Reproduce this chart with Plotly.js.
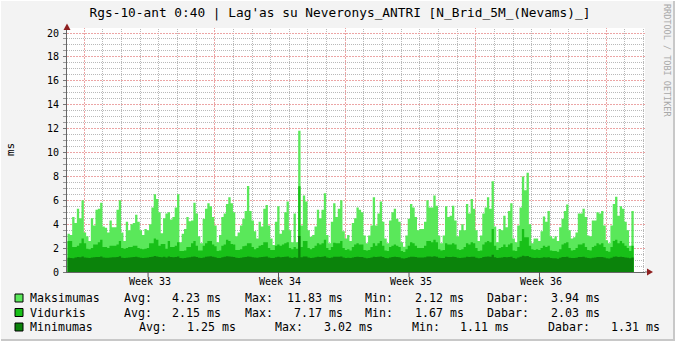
<!DOCTYPE html>
<html>
<head>
<meta charset="utf-8">
<script src="https://cdn.plot.ly/plotly-3.0.1.min.js"></script>
<style>html,body{margin:0;padding:0;background:#f3f3f3;}#chart{width:675px;height:341px;}</style>
</head>
<body>
<div id="chart"></div>
<script>
// ---- data (days relative to start of Week 33, 3-hour step) ----
const startDay = -0.9;
const stepDay = 0.125;
const weekLabels = ["Week 33", "Week 34", "Week 35", "Week 36"];
const weekCenters = [3.5, 10.5, 17.5, 24.5];
const seriesNames = ["Maksimumas", "Vidurkis", "Minimumas"];
const statAvg = [4.23, 2.15, 1.25];
const statMax = [11.83, 7.17, 3.02];
const statMin = [2.12, 1.67, 1.11];
const statCur = [3.94, 2.03, 1.31];

const maks = [
3.2,3.1,4.6,4.1,5.3,4.5,6.0,3.3,3.0,2.6,
4.5,3.9,5.2,5.3,5.8,3.8,3.7,3.3,4.3,3.75,
3.75,5.2,6.0,3.3,2.6,4.2,3.5,4.0,4.1,4.8,
4.2,3.5,3.1,3.6,3.5,4.0,5.4,6.5,6.1,5.0,
3.25,4.5,4.9,5.0,4.4,4.6,5.4,6.5,2.5,3.2,
3.6,4.6,4.25,4.3,5.8,4.9,3.0,2.4,4.45,5.3,
5.75,5.5,4.6,3.9,2.5,3.1,4.6,4.9,5.7,6.25,
5.75,5.0,3.0,3.3,3.9,4.45,5.1,7.2,5.1,4.3,
3.4,2.8,4.2,3.8,5.3,5.6,3.9,2.8,2.25,4.2,
5.5,3.2,3.5,5.0,5.9,3.5,2.5,4.9,2.5,11.83,
3.9,6.4,5.9,3.5,2.95,3.1,3.8,5.2,4.5,5.2,
6.6,3.1,2.4,4.2,5.75,4.6,5.3,6.0,3.4,2.8,
3.1,2.6,4.1,4.5,5.4,5.2,5.0,3.05,2.4,3.05,
3.9,6.25,3.9,4.9,5.9,4.2,2.8,2.4,4.3,5.0,
5.3,4.45,4.2,2.5,2.12,3.05,4.45,5.7,5.4,4.6,
3.5,3.6,3.6,4.2,6.0,5.4,5.4,6.4,5.55,3.05,
2.4,3.05,5.5,4.6,4.7,5.55,4.3,3.0,3.5,4.0,
3.5,5.7,4.9,6.1,5.3,3.5,2.6,3.05,4.9,5.4,
6.25,5.3,7.6,3.8,2.5,3.6,3.5,4.7,3.75,5.1,
5.75,2.8,2.5,3.9,5.4,8.0,6.85,8.3,4.0,2.4,
2.8,2.8,2.6,3.4,4.65,4.2,5.1,3.0,2.8,3.0,
2.6,3.75,4.45,5.1,5.65,3.5,2.8,2.9,3.3,4.9,
4.9,5.3,4.6,3.05,3.0,4.3,4.3,5.0,4.9,5.1,
3.9,2.65,2.4,3.9,5.7,6.3,4.7,5.5,5.3,4.2,
3.5,2.2,5.1,3.5
];
const vidurkis = [
2.6,2.6,2.1,2.1,2.2,2.4,2.8,2.4,1.95,1.9,
2.0,2.3,2.3,2.5,2.7,2.1,2.1,2.0,2.2,2.2,
2.2,2.3,2.6,2.0,1.95,2.0,2.1,2.1,2.2,2.2,
2.0,1.95,1.9,1.95,2.0,2.4,2.4,2.8,2.7,2.2,
2.35,2.35,1.95,2.6,2.1,2.1,2.2,2.5,1.75,1.75,
1.8,2.1,2.1,2.4,2.6,2.2,1.8,1.8,2.2,2.4,
2.6,2.6,2.3,2.15,1.75,1.8,2.2,2.3,2.7,2.6,
2.35,2.3,1.85,1.85,1.9,2.15,2.2,2.4,2.4,2.1,
1.9,2.0,2.2,2.25,2.5,2.5,2.0,1.85,1.85,2.2,
2.3,2.2,2.3,2.4,2.5,2.0,1.9,2.1,1.95,7.17,
2.1,2.6,2.6,2.0,1.9,2.0,2.2,2.4,2.3,2.4,
2.7,2.0,1.85,2.1,2.45,2.4,2.4,2.6,2.0,1.85,
1.9,1.8,2.1,2.3,2.4,2.3,2.3,1.85,1.8,1.85,
2.1,2.4,2.2,2.4,2.6,2.2,1.8,1.75,2.1,2.2,
2.3,2.2,2.1,1.75,1.67,1.9,2.2,2.5,2.4,2.2,
2.0,2.0,2.0,2.2,2.6,2.6,2.5,2.7,2.5,1.9,
1.8,1.85,2.4,2.3,2.3,2.4,2.3,1.9,1.85,1.9,
2.1,2.4,2.3,2.5,2.4,2.0,1.75,1.8,2.3,2.5,
2.6,2.5,3.6,2.2,1.85,2.0,2.1,2.3,2.1,2.3,
2.4,1.8,1.75,2.1,2.6,3.6,2.9,2.9,2.2,1.9,
1.85,1.9,1.85,2.0,2.2,2.1,2.2,1.8,1.75,1.75,
1.7,1.9,2.3,2.4,2.5,2.0,1.8,1.85,2.0,2.3,
2.3,2.4,2.1,1.85,1.8,2.1,2.2,2.4,2.3,2.4,
2.1,1.75,1.7,2.1,2.6,2.7,2.4,2.6,2.4,2.2,
2.0,1.75,2.2,2.0
];
const minimumas = [
1.2,1.18,1.15,1.22,1.25,1.24,1.3,1.22,1.2,1.18,
1.22,1.24,1.26,1.25,1.3,1.22,1.2,1.19,1.22,1.24,
1.24,1.26,1.32,1.2,1.17,1.2,1.22,1.24,1.25,1.27,
1.24,1.2,1.18,1.2,1.22,1.25,1.28,1.33,1.3,1.26,
1.24,1.27,1.22,1.3,1.25,1.24,1.26,1.3,1.18,1.16,
1.18,1.22,1.24,1.27,1.3,1.26,1.19,1.17,1.22,1.27,
1.3,1.31,1.27,1.24,1.17,1.18,1.24,1.27,1.32,1.3,
1.27,1.25,1.19,1.18,1.2,1.24,1.26,1.3,1.28,1.24,
1.22,1.2,1.24,1.25,1.28,1.3,1.22,1.18,1.17,1.23,
1.27,1.24,1.26,1.28,1.3,1.22,1.18,1.24,1.2,3.02,
1.24,1.3,1.3,1.22,1.18,1.2,1.24,1.27,1.26,1.28,
1.31,1.22,1.17,1.22,1.27,1.27,1.28,1.3,1.22,1.18,
1.19,1.17,1.22,1.25,1.27,1.26,1.26,1.2,1.16,1.18,
1.22,1.27,1.25,1.27,1.3,1.25,1.18,1.15,1.22,1.25,
1.27,1.25,1.23,1.16,1.13,1.18,1.24,1.28,1.27,1.25,
1.22,1.22,1.22,1.24,1.3,1.3,1.28,1.31,1.28,1.2,
1.17,1.18,1.27,1.26,1.26,1.28,1.25,1.2,1.18,1.2,
1.22,1.27,1.26,1.28,1.27,1.2,1.15,1.17,1.25,1.28,
1.3,1.28,1.45,1.24,1.17,1.2,1.22,1.25,1.23,1.25,
1.27,1.17,1.12,1.22,1.28,1.36,1.32,1.33,1.25,1.2,
1.18,1.2,1.18,1.2,1.24,1.22,1.24,1.17,1.15,1.15,
1.11,1.2,1.25,1.26,1.28,1.2,1.17,1.18,1.2,1.25,
1.25,1.27,1.22,1.17,1.15,1.2,1.22,1.26,1.25,1.26,
1.22,1.15,1.13,1.2,1.28,1.3,1.26,1.28,1.26,1.22,
1.2,1.15,1.22,1.2
];

// ---- styling ----
const colors = ["#5ae85a", "#18c018", "#0b830b"];
const MONO = "DejaVu Sans Mono, monospace";
const W = 675, H = 341, L = 67, R = 645, T = 28, B = 272;
const px = X => (X - L) / (R - L);
const py = Y => (B - Y) / (B - T);
const GRID_MAJOR = "rgb(236,165,165)", GRID_MINOR = "rgb(185,185,185)";
const X0 = (L - 84.3) / 18.64, X1 = (R - 84.3) / 18.64;
const Y1 = 20 * (B - T) / (B - 33);
const dayToPx = d => L + (d - X0) / (X1 - X0) * (R - L);
const valToPx = v => B - v / Y1 * (B - T);

const times = maks.map((_, i) => startDay + i * stepDay);
const series = [maks, vidurkis, minimumas];
const traces = series.map((vals, k) => ({
  type: "scatter", mode: "lines", x: times, y: vals,
  line: {shape: "hv", width: 0, color: colors[k]},
  fill: "tozeroy", fillcolor: colors[k],
  name: seriesNames[k], hoverinfo: "skip"
}));

const shapes = [];
// grid (crisp 1px dotted lines, below the data): minor first, major on top
const majorGrid = [];
for (let d = Math.ceil(X0); d <= X1; d++) {
  const Xp = Math.round(dayToPx(d) - 0.5) + 0.5;
  const major = Math.abs(d % 7) === 0;
  const s = {type: "line", layer: "below", xref: "paper", yref: "paper",
    x0: px(Xp), x1: px(Xp), y0: 0, y1: 1,
    line: {color: major ? GRID_MAJOR : GRID_MINOR, width: 1, dash: major ? "2px,1px" : "1px,1px"}};
  (major ? majorGrid : shapes).push(s);
}
for (let j = 1; j * 0.5 <= 20; j++) {
  const v = j * 0.5;
  const Yp = Math.round(valToPx(v) - 0.5) + 0.5;
  const major = j % 4 === 0;
  const s = {type: "line", layer: "below", xref: "paper", yref: "paper",
    x0: 0, x1: 1, y0: py(Yp), y1: py(Yp),
    line: {color: major ? GRID_MAJOR : GRID_MINOR, width: 1, dash: major ? "2px,1px" : "1px,1px"}};
  (major ? majorGrid : shapes).push(s);
}
majorGrid.forEach(s => shapes.push(s));

const annotations = [];
weekLabels.forEach((t, i) => annotations.push({
  x: weekCenters[i], xref: "x", y: py(281), yref: "paper",
  text: t, showarrow: false, xanchor: "center", yanchor: "middle",
  font: {family: MONO, size: 10, color: "#000"}
}));
annotations.push({x: px(10), xref: "paper", y: py(150), yref: "paper", text: "ms",
  textangle: -90, showarrow: false, xanchor: "center", yanchor: "middle",
  font: {family: MONO, size: 11, color: "#000"}});
annotations.push({x: px(667), xref: "paper", y: py(60), yref: "paper", text: "RRDTOOL / TOBI OETIKER",
  textangle: 90, showarrow: false, xanchor: "center", yanchor: "middle",
  font: {family: MONO, size: 8.5, color: "#a8a8a8"}});

const f2 = v => v.toFixed(2) + " ms";
const rows = [
  {y: 298, items: [[30, seriesNames[0]], [124, "Avg:"], [172, f2(statAvg[0])], [245, "Max:"], [287, f2(statMax[0])], [365, "Min:"], [415, f2(statMin[0])], [487, "Dabar:"], [551, f2(statCur[0])]]},
  {y: 312.5, items: [[30, seriesNames[1]], [124, "Avg:"], [172, f2(statAvg[1])], [245, "Max:"], [294, f2(statMax[1])], [365, "Min:"], [415, f2(statMin[1])], [487, "Dabar:"], [551, f2(statCur[1])]]},
  {y: 327, items: [[30, seriesNames[2]], [139, "Avg:"], [187, f2(statAvg[2])], [275, "Max:"], [324, f2(statMax[2])], [412, "Min:"], [460, f2(statMin[2])], [548, "Dabar:"], [611, f2(statCur[2])]]}
];
rows.forEach((r, k) => {
  r.items.forEach(([X, t]) => annotations.push({
    x: px(X - 1), xref: "paper", y: py(r.y), yref: "paper", text: t, showarrow: false,
    xanchor: "left", yanchor: "middle", borderpad: 0,
    font: {family: MONO, size: 11.6, color: "#000"}
  }));
  shapes.push({type: "rect", xref: "paper", yref: "paper",
    x0: px(15), x1: px(23), y0: py(r.y + 4), y1: py(r.y - 4),
    fillcolor: colors[k], line: {color: "#000", width: 1}});
});
// week tick marks
weekCenters.forEach(c => shapes.push({type: "line", xref: "x", yref: "paper",
  x0: c - 0.08, x1: c - 0.08, y0: py(272), y1: py(277), line: {color: "#555", width: 1}}));
// axis extensions and arrows
shapes.push({type: "line", xref: "paper", yref: "paper", x0: px(645), x1: px(648), y0: 0, y1: 0, line: {color: "#666", width: 1}});
shapes.push({type: "path", xref: "paper", yref: "paper",
  path: `M ${px(647)} ${py(268.5)} L ${px(653)} ${py(272)} L ${px(647)} ${py(275.5)} Z`,
  fillcolor: "#8e1f1f", line: {color: "#8e1f1f", width: 0}});
shapes.push({type: "path", xref: "paper", yref: "paper",
  path: `M ${px(63.5)} ${py(30)} L ${px(67)} ${py(23.5)} L ${px(70.5)} ${py(30)} Z`,
  fillcolor: "#8e1f1f", line: {color: "#8e1f1f", width: 0}});
// 3D frame of the canvas
shapes.push({type: "line", xref: "paper", yref: "paper", x0: px(674), x1: px(674), y0: py(0), y1: py(341), line: {color: "#c8c8c8", width: 2}});
shapes.push({type: "line", xref: "paper", yref: "paper", x0: px(0), x1: px(675), y0: py(340), y1: py(340), line: {color: "#c8c8c8", width: 2}});
shapes.push({type: "line", xref: "paper", yref: "paper", x0: px(0.5), x1: px(0.5), y0: py(0), y1: py(341), line: {color: "#ffffff", width: 1}});
shapes.push({type: "line", xref: "paper", yref: "paper", x0: px(0), x1: px(675), y0: py(0.5), y1: py(0.5), line: {color: "#ffffff", width: 1}});

const layout = {
  width: W, height: H,
  margin: {l: L, r: W - R, t: T, b: H - B, pad: 0},
  paper_bgcolor: "#f3f3f3", plot_bgcolor: "#ffffff",
  showlegend: false,
  title: {text: "Rgs-10-ant 0:40 | Lag'as su Neveronys_ANTRI [N_Brid_5M_(Nevams)_]",
    x: 340 / W, xref: "container", xanchor: "center", y: 1 - 13 / H, yref: "container", yanchor: "middle",
    font: {family: MONO, size: 12.8, color: "#000"}},
  xaxis: {
    range: [X0, X1], showgrid: false,
    showticklabels: false, ticks: "", zeroline: false,
    showline: true, linecolor: "#666", linewidth: 1, layer: "above traces"
  },
  yaxis: {
    range: [0, Y1], tick0: 0, dtick: 2, showgrid: false,
    ticks: "outside", ticklen: 3, tickcolor: "#777", zeroline: false,
    showline: true, linecolor: "#666", linewidth: 1, layer: "above traces",
    tickfont: {family: MONO, size: 10, color: "#000"}, ticklabelstandoff: 2,
    minor: {tick0: 0, dtick: 0.5, showgrid: false, ticks: "outside", ticklen: 3, tickcolor: "#999"}
  },
  annotations: annotations,
  shapes: shapes
};

Plotly.newPlot("chart", traces, layout, {staticPlot: true, displayModeBar: false});
</script>
</body>
</html>
